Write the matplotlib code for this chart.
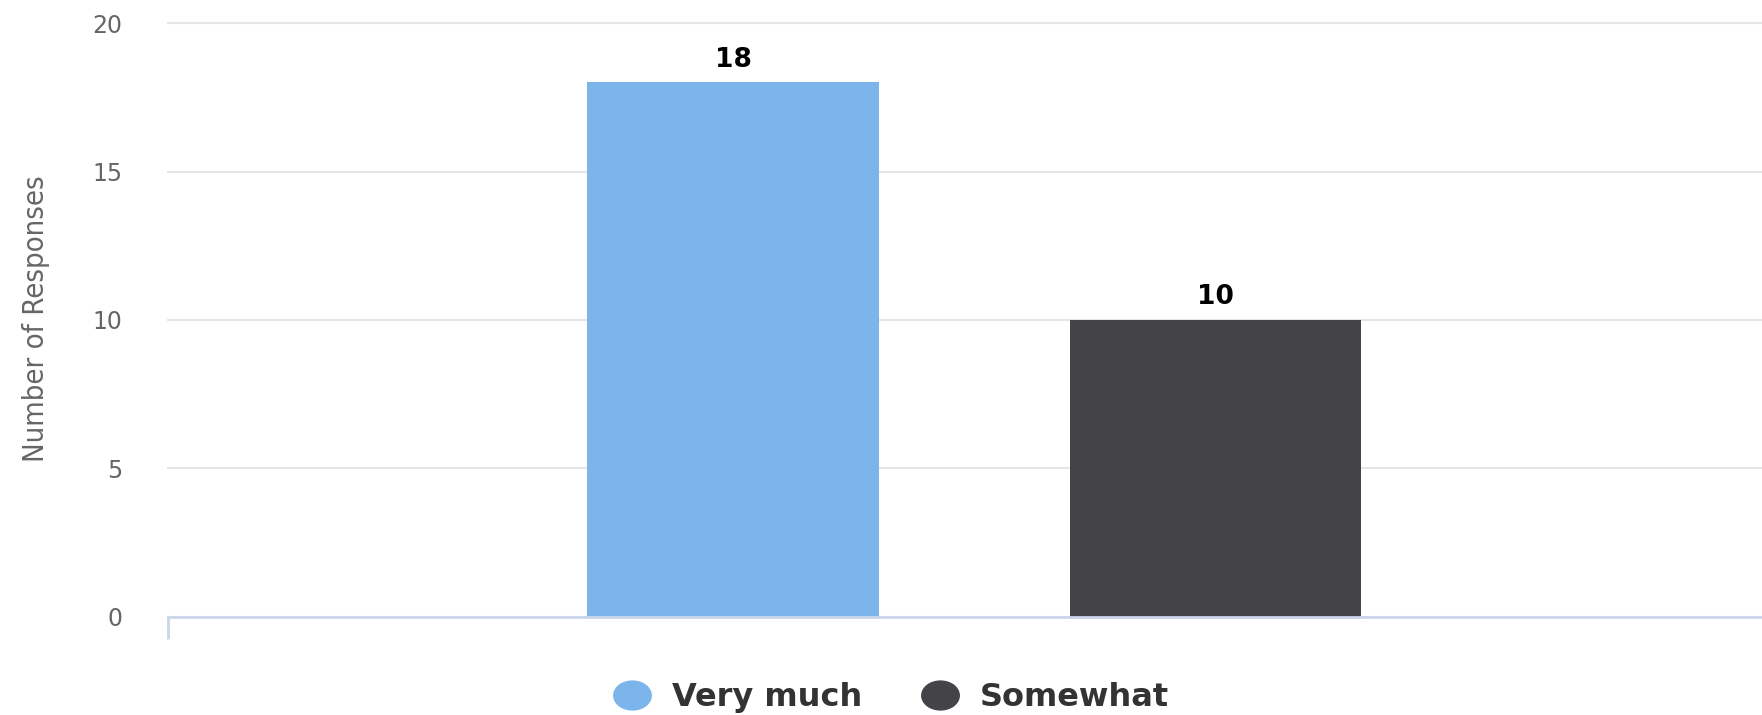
import matplotlib
matplotlib.use("Agg")
import matplotlib.pyplot as plt
from matplotlib.lines import Line2D
from matplotlib.path import Path
from matplotlib.transforms import Affine2D

series = ["Very much", "Somewhat"]
responses = [18, 10]
colors = ["#7cb5ec", "#434348"]
y_ticks = [0, 5, 10, 15, 20]

fig = plt.figure(figsize=(17.62, 7.15), dpi=100)
ax = fig.add_axes([0.0953, 0.1371, 0.9047, 0.8307])

x = list(range(len(series)))
bars = ax.bar(x, responses, width=0.604, color=colors, zorder=3)
ax.set_xlim(-1.171, 2.132)
ax.set_ylim(0, 20)

ax.bar_label(bars, padding=7, fontsize=19, fontweight="bold", color="#000000",
             family="DejaVu Sans")

# axes styling, highcharts-like
ax.set_yticks(y_ticks)
ax.set_yticklabels([str(t) for t in y_ticks])
ax.tick_params(axis="y", length=0, pad=33, labelsize=17, labelcolor="#666666")
for lbl in ax.get_yticklabels():
    lbl.set_horizontalalignment("right")
ax.grid(axis="y", color="#e6e6e6", linewidth=1.5, zorder=0)
for gl in ax.get_ygridlines():
    gl.set_clip_on(False)

ax.set_xticks([ax.get_xlim()[0]])
ax.set_xticklabels([""])
ax.tick_params(axis="x", length=16, width=2, color="#ccd6eb", direction="out")

for side in ["left", "right", "top"]:
    ax.spines[side].set_visible(False)
ax.spines["bottom"].set_color("#ccd6eb")
ax.spines["bottom"].set_linewidth(2)
ax.spines["bottom"].set_zorder(4)

ax.set_ylabel("Number of Responses", fontsize=21, color="#666666",
              family="DejaVu Sans", fontstretch="condensed")
ax.yaxis.set_label_coords(-0.074, 0.503)

# legend with slightly wide round markers
ellipse = Path.unit_circle().transformed(Affine2D().scale(1.3, 1.0))
handles = [Line2D([], [], linestyle="none", marker=ellipse, markersize=27,
                  markerfacecolor=c, markeredgecolor=c) for c in colors]
leg = fig.legend(handles, series, loc="center", bbox_to_anchor=(0.506, 0.024),
                 ncol=2, frameon=False, handlelength=1.1, handletextpad=0.7,
                 columnspacing=1.9,
                 prop={"family": "DejaVu Sans", "weight": "bold", "size": 23})
for t in leg.get_texts():
    t.set_color("#333333")

fig.savefig("out.png", dpi=100)
